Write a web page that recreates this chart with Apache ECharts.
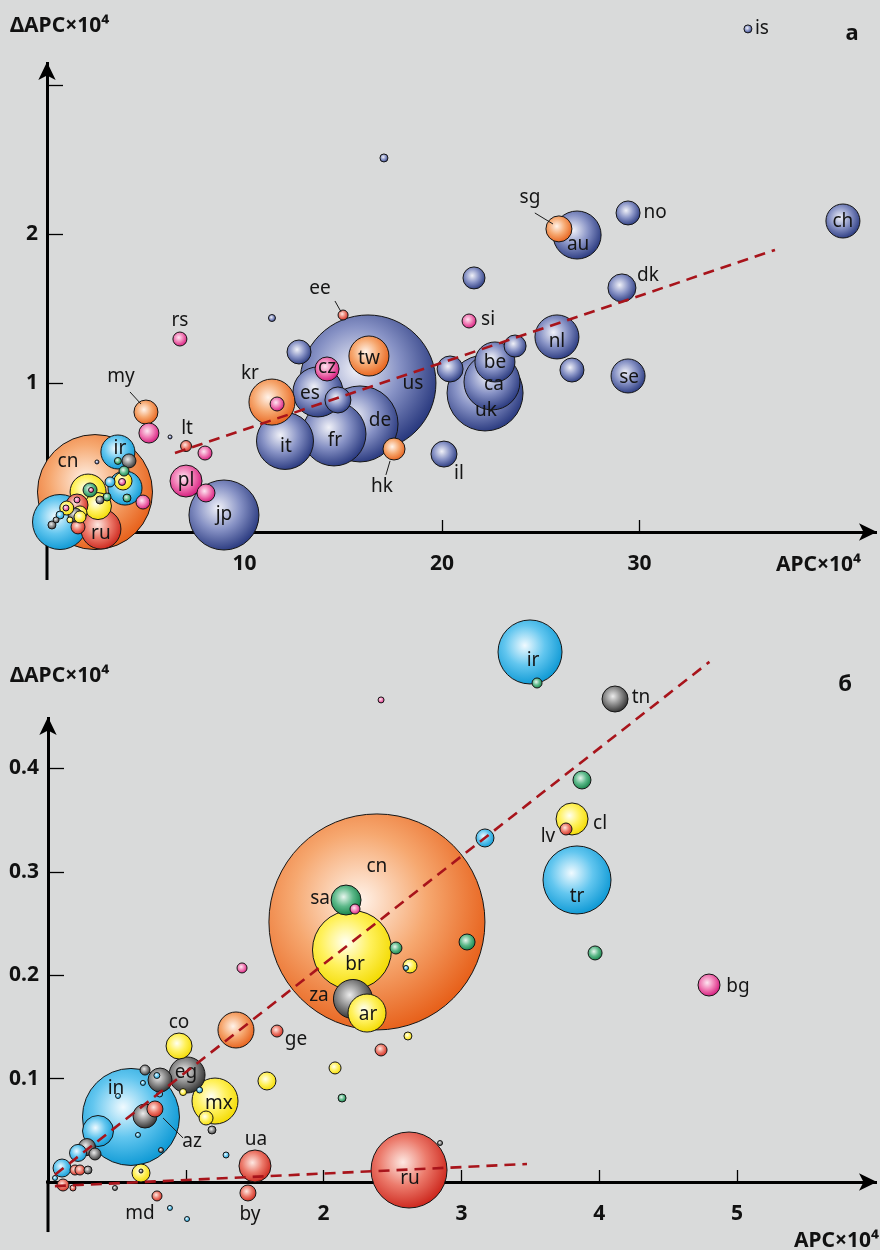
<!DOCTYPE html>
<html><head><meta charset="utf-8">
<script src="https://cdn.jsdelivr.net/npm/echarts@6/dist/echarts.min.js"></script>
<style>html,body{margin:0;padding:0;background:#d9dada;}#c{width:880px;height:1250px;}</style>
</head><body><div id="c"></div>
<script>
// ---------- Panel a (APC vs ΔAPC, all countries) ----------
const namesA = ['is','ch','no','au','sg','dk','nl','se','','','','si','uk','ca','be','','','il','us','tw','hk','de','fr','it','es','','cz','','kr','','ee','','rs','my','','lt','','','pl','','jp','cn','ir','','','','','','','','','','','','','','','','ru','','','','','','','','','','','','','',''];
const apcA = [35.49,40.30,29.42,26.84,25.92,29.11,25.82,29.42,26.58,21.62,17.06,21.37,22.18,22.53,22.68,23.70,20.41,20.10,16.25,16.30,17.57,15.85,14.53,12.05,13.72,14.73,14.18,12.76,11.39,11.65,14.99,11.39,6.73,5.01,5.16,7.04,8.00,6.23,7.04,8.05,8.96,2.43,3.59,4.15,3.59,3.95,3.85,3.90,3.80,3.19,2.08,2.58,2.18,2.23,3.04,4.05,4.86,0.66,2.73,1.52,1.57,1.67,1.42,0.25,0.66,0.96,1.16,2.53,1.00,1.67,2.68,1.52,0.46,0.76,0.15];
const dApcA = [3.376,2.087,2.141,1.993,2.034,1.638,1.309,1.047,1.087,1.705,2.510,1.416,0.933,1.007,1.141,1.248,1.094,0.523,1.000,1.181,0.557,0.725,0.658,0.611,0.940,0.886,1.094,1.208,0.872,0.859,1.456,1.436,1.295,0.805,0.664,0.577,0.530,0.638,0.342,0.262,0.114,0.268,0.537,0.477,0.477,0.295,0.342,0.409,0.336,0.336,0.268,0.174,0.282,0.282,0.235,0.228,0.201,0.067,0.020,0.181,0.034,0.128,0.114,0.047,0.114,0.161,0.081,0.470,0.161,0.101,0.215,0.215,0.081,0.040,0.020];
const weightA = [0.64,11.56,5.76,23.04,6.76,7.84,19.36,11.56,5.76,4.84,0.64,1.96,57.76,31.36,16,4.84,6.76,6.76,184.96,16,4.84,57.76,40.96,32.49,25,6.76,5.76,5.76,21.16,1.96,1,0.49,1.96,5.76,4,1.21,1.96,0.16,10.24,3.24,49,132.25,11.56,1.96,0.49,11.56,3.24,1,0.49,1,12.96,7.29,1.96,0.25,0.64,0.64,1.96,30.25,16,4.84,1.96,1.96,1.96,0.64,0.64,0.36,0.36,0.16,1.96,1.44,0.64,0.36,0.36,0.36,0.25];
const groupA = ['W','W','W','W','O','W','W','W','W','W','W','P','W','W','W','W','W','W','W','O','O','W','W','W','W','W','P','W','O','P','R','W','P','O','P','R','P','W','P','P','W','O','C','G','N','C','Y','N','P','C','Y','Y','N','P','N','N','P','C','R','R','R','Y','G','G','C','P','Y','W','Y','Y','G','P','G','C','C'];
const trendA = [[6.48,0.530],[36.86,1.893]];
const leadersA = [[[24.70,2.141],[25.62,2.067]],[[14.58,1.550],[14.89,1.477]],[[4.20,0.940],[4.76,0.859]],[[17.16,0.383],[17.37,0.477]]];
const xTicksA = [10,20,30], xLabelsA = [10,20,30];
const yTicksA = [1,2,3], yLabelsA = [1,2];
const xRangeA = [-1.873, 42.025], yRangeA = [-0.322, 3.154];

// ---------- Panel b (zoom on lower APC) ----------
const namesB = ['ir','','','tn','','cl','lv','','tr','','bg','','cn','sa','','br','','','','za','ar','','','','','ge','co','eg','','','mx','','','','','','','ua','by','ru','','in','az','','','','','','','','','','','','md','','','','','','','','','','','','','',''];
const apcB = [3.498,3.549,2.417,4.115,3.875,3.803,3.759,3.171,3.839,3.970,4.797,3.041,2.387,2.163,2.228,2.206,2.525,2.627,2.598,2.213,2.315,2.612,2.417,1.364,1.408,1.662,0.951,1.009,0.813,0.704,1.212,1.147,1.589,2.083,2.134,1.190,1.292,1.502,1.451,2.620,2.845,0.602,0.704,0.776,0.363,0.283,0.341,0.218,0.102,0.196,0.232,0.290,0.675,0.675,0.791,0.885,1.009,0.109,0.181,0.486,0.653,0.508,0.689,0.820,0.790,0.810,0.980,1.100,0.051,0.087,0.283];
const dApcB = [0.5126,0.4826,0.4662,0.4671,0.3888,0.3511,0.3414,0.3327,0.2921,0.2215,0.1905,0.2321,0.2515,0.2727,0.2640,0.2244,0.2263,0.2089,0.2070,0.1770,0.1634,0.1412,0.1277,0.1470,0.2070,0.1460,0.1315,0.1035,0.0986,0.1083,0.0783,0.0619,0.0977,0.1103,0.0812,0.0503,0.0261,0.0155,-0.0106,0.0116,0.0377,0.0629,0.0638,0.0706,0.0493,0.0338,0.0271,0.0281,0.0135,0.0116,0.0116,0.0116,0.0087,0.0106,-0.0135,-0.0251,-0.0358,-0.0029,-0.0058,-0.0058,0.0455,0.0832,0.0958,0.0309,0.1030,0.0851,0.0870,0.0890,0.0039,0.0097,0.0213];
const weightB = [40.96,1,0.36,6.76,3.24,10.24,1.44,3.24,46.24,1.96,4.84,2.56,466.56,9,1,62.41,1.44,1.96,0.25,15.21,14.44,0.64,1.44,12.96,1,1.44,6.76,12.96,5.76,1,21.16,1.96,3.24,1.44,0.64,0.64,0.36,10.24,2.56,57.76,0.25,94.09,5.76,2.56,9.61,2.89,1.44,2.89,3.24,1,1,0.64,3.24,0.16,1,0.25,0.25,1.44,0.36,0.25,0.25,0.25,0.25,0.25,0.36,0.36,0.49,0.36,0.25,0.36,0.64];
const groupB = ['C','N','P','G','N','Y','R','C','C','N','P','N','O','N','P','Y','N','Y','C','G','Y','Y','R','O','P','R','Y','G','G','G','Y','Y','Y','Y','N','G','C','R','R','R','G','C','G','R','C','G','G','C','C','R','R','G','Y','G','R','C','C','R','R','G','C','C','C','G','C','C','Y','C','C','C','Y'];
const trendB1 = [[0.05,0.007],[4.80,0.503]];
const trendB2 = [[0.05,-0.004],[3.476,0.0174]];
const leadersB = [[[0.835,0.0619],[0.980,0.0426]]];
const xTicksB = [1,2,3,4,5], xLabelsB = [2,3,4,5];
const yTicksB = [0.1,0.2,0.3,0.4], yLabelsB = [0.1,0.2,0.3,0.4];
const xRangeB = [-0.276, 6.016], yRangeB = [-0.0484, 0.4497];

// ---------- styling ----------
const labelOffA = {is:[14,0],ch:[0,1],no:[27,0],au:[1,10],sg:[-29,-31],dk:[26,-12],nl:[0,5],se:[1,2],si:[19,-1],
  be:[0,1],ca:[2,3],uk:[1,18],il:[15,20],us:[45,1],tw:[0,3],hk:[-12,38],de:[20,-3],fr:[1,7],it:[1,6],es:[-8,2],
  cz:[0,-1],kr:[-22,-28],ee:[-23,-26],rs:[0,-18],my:[-25,-35],lt:[1,-17],pl:[0,0],jp:[0,0],cn:[-27,-30],ir:[2,-3],ru:[0,5]};
const labelOffB = {ir:[3,9],tn:[26,-1],cl:[28,5],lv:[-18,8],tr:[0,17],bg:[29,2],cn:[0,-55],sa:[-26,-1],br:[3,15],
  za:[-34,-3],ar:[1,2],co:[0,-23],ge:[19,9],eg:[-1,-2],mx:[4,3],in:[-15,-28],az:[47,26],ua:[1,-26],by:[2,22],ru:[1,9],md:[-17,18]};
const GRAD = {
  W:['#f0f1f8','#8792c5','#28387e'],
  O:['#fff3ea','#f6a870','#e7601a'],
  P:['#fde6f1','#f07bb4','#d3147a'],
  C:['#f0faff','#62c6ef','#0c98d4'],
  Y:['#fffff2','#fff15c','#f3da00'],
  N:['#e8f6ee','#5db98a','#117f45'],
  G:['#ececec','#8b8b8b','#2c2c2c'],
  R:['#fde8e2','#ec7b6c','#cc251b']
};
function grad(g){const c=GRAD[g];return {type:'radial',x:0.42,y:0.4,r:0.62,global:false,
  colorStops:[{offset:0,color:c[0]},{offset:0.5,color:c[1]},{offset:1,color:c[2]}]};}
const FONT = 'Noto Sans';
function build(names,xs,ys,ws,gs,offs){
  const items = names.map((n,i)=>({n:n,x:xs[i],y:ys[i],w:ws[i],g:gs[i]}));
  items.sort((a,b)=>b.w-a.w);
  return items.map(it=>{
    const o={value:[it.x,it.y,it.w],itemStyle:{color:grad(it.g)}};
    if(it.n){o.label={show:true,position:'inside',offset:offs[it.n]||[0,0],formatter:it.n};}
    return o;
  });
}
const sizeFn = v => 10*Math.sqrt(v[2]);
function scatter(xi,data){
  return {type:'scatter',xAxisIndex:xi,yAxisIndex:xi,clip:false,symbolSize:sizeFn,data:data,
    itemStyle:{borderColor:'#151515',borderWidth:1,opacity:1},
    label:{show:false,fontFamily:FONT,fontSize:19,color:'#151515'},
    emphasis:{disabled:true},silent:true,z:2,animation:false};
}
function seg(xi,pts,style,z){
  return {type:'line',xAxisIndex:xi,yAxisIndex:xi,data:pts,symbol:'none',clip:false,silent:true,
    lineStyle:style,z:z,animation:false,emphasis:{disabled:true}};
}
const dash = {color:'#a8141b',width:2.6,type:[11,7]};
const lead = {color:'#1a1a1a',width:1};
const axisStroke = {color:'#000',width:3,cap:'butt'};
function xAxis(gi,max,ticks,labels){
  return {type:'value',gridIndex:gi,min:0,max:max,splitLine:{show:false},
    axisLine:{show:true,onZero:false,symbol:['none','arrow'],symbolSize:[13,18],lineStyle:axisStroke},
    axisTick:{show:true,inside:true,length:12,customValues:ticks,lineStyle:{color:'#000',width:1.3}},
    axisLabel:{show:true,customValues:labels,margin:22,fontFamily:FONT,fontWeight:'bold',fontSize:21,color:'#111'}};
}
function yAxis(gi,max,ticks,labels){
  return {type:'value',gridIndex:gi,min:0,max:max,splitLine:{show:false},
    axisLine:{show:true,onZero:false,symbol:['none','arrow'],symbolSize:[13,18],lineStyle:axisStroke},
    axisTick:{show:true,inside:true,length:16,customValues:ticks,lineStyle:{color:'#000',width:1.3}},
    axisLabel:{show:true,customValues:labels,margin:9,fontFamily:FONT,fontWeight:'bold',fontSize:21,color:'#111'}};
}
const series = [
  scatter(0,build(namesA,apcA,dApcA,weightA,groupA,labelOffA)),
  scatter(1,build(namesB,apcB,dApcB,weightB,groupB,labelOffB)),
  // axis extensions beyond the origin (left of y-axis, below x-axis)
  seg(0,[[xRangeA[0],0],[0,0]],axisStroke,1), seg(0,[[0,yRangeA[0]],[0,0]],axisStroke,1),
  seg(1,[[xRangeB[0],0],[0,0]],axisStroke,1), seg(1,[[0,yRangeB[0]],[0,0]],axisStroke,1),
  seg(0,trendA,dash,6), seg(1,trendB1,dash,6), seg(1,trendB2,dash,6)
];
leadersA.forEach(l=>series.push(seg(0,l,lead,5)));
leadersB.forEach(l=>series.push(seg(1,l,lead,5)));
const txt=(x,y,t,align,size)=>({type:'text',x:x,y:y,silent:true,z:10,style:{text:t,fill:'#111',font:'bold '+size+'px "'+FONT+'"',textAlign:align,textVerticalAlign:'middle'}});
const chart = echarts.init(document.getElementById('c'),null,{renderer:'canvas'});
chart.setOption({
  backgroundColor:'#d9dada',animation:false,
  grid:[{left:47,top:62,width:830,height:470,containLabel:false,outerBoundsMode:'none'},
        {left:48,top:717,width:829,height:465,containLabel:false,outerBoundsMode:'none'}],
  xAxis:[xAxis(0,xRangeA[1],xTicksA,xLabelsA),xAxis(1,xRangeB[1],xTicksB,xLabelsB)],
  yAxis:[yAxis(0,yRangeA[1],yTicksA,yLabelsA),yAxis(1,yRangeB[1],yTicksB,yLabelsB)],
  series:series,
  graphic:[
    txt(10,26,'ΔAPC×10⁴','left',21), txt(852,34,'а','center',22),
    txt(861,565,'APC×10⁴','right',21),
    txt(10,676,'ΔAPC×10⁴','left',21), txt(845,685,'б','center',22),
    txt(879,1241,'APC×10⁴','right',21)
  ]
});
</script></body></html>
